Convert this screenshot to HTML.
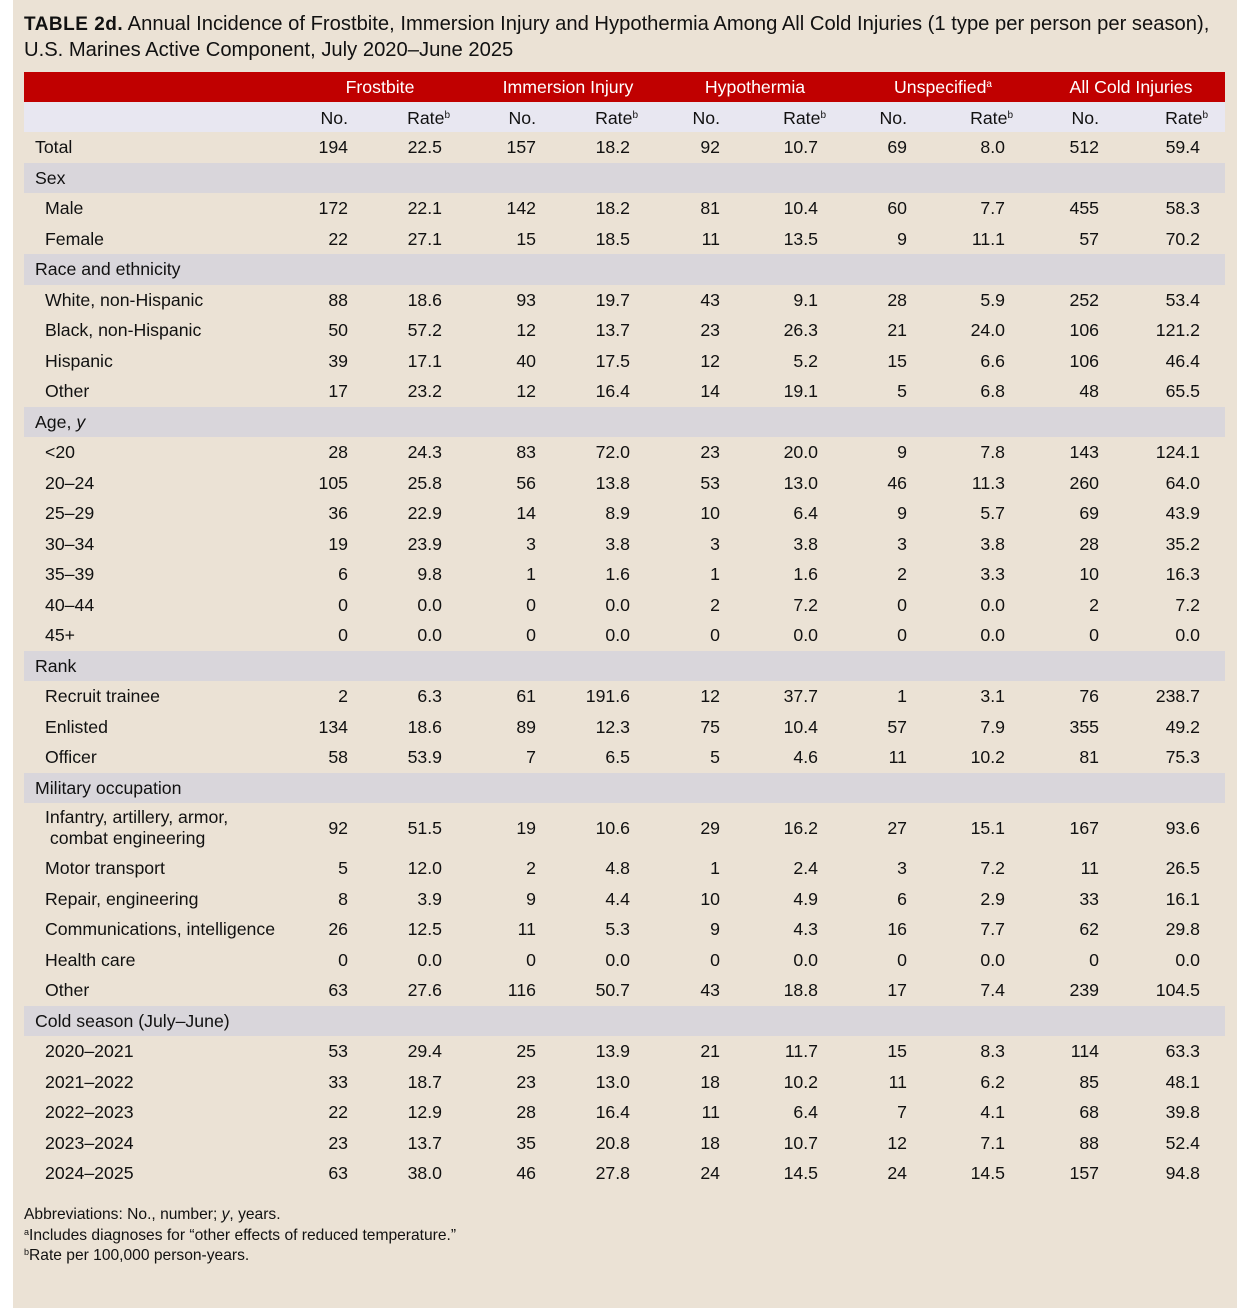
<!DOCTYPE html>
<html><head><meta charset="utf-8"><style>
html,body{margin:0;padding:0;background:#fff;}
#p{position:absolute;left:13px;top:0;width:1224px;height:1308px;background:#ebe2d5;}
body{font-family:"Liberation Sans",sans-serif;color:#111;width:1250px;height:1308px;position:relative;overflow:hidden;}
.t{position:absolute;left:24px;font-size:20.2px;line-height:26px;white-space:nowrap;}
.tb{font-weight:bold;letter-spacing:0.5px;font-size:19px;}
#red{position:absolute;left:24px;top:72px;width:1201px;height:30px;background:#c00000;}
#red span{position:absolute;top:0;line-height:30px;color:#fff;font-size:17.7px;transform:translateX(-50%);white-space:nowrap;}
sup{font-size:10px;vertical-align:6px;line-height:0;}
#tw{position:absolute;left:24px;top:102px;width:1201px;height:30px;background:#e8e7f1;}
table{position:absolute;left:24px;top:103px;border-collapse:collapse;table-layout:fixed;width:1201px;font-size:17.7px;}
td{padding:0 10px 0 0;text-align:right;height:30.5px;white-space:nowrap;line-height:20px;}
td:first-child{text-align:left;padding-left:21px;}
tr.sh td{background:#e8e7f1;height:29px;}
tr.sh td.r{padding-right:2px;}
tr.g td{background:#d9d6db;}
tr.g td:first-child,tr.tot td:first-child{padding-left:11px;}
td.last{padding-right:25px;}
tr.sh td.last{padding-right:17px;}
.f{position:absolute;left:24px;font-size:15.6px;line-height:20.5px;white-space:nowrap;}
.f sup{font-size:9px;vertical-align:5px;}
</style></head><body><div id="p"></div>
<div class="t" style="top:11px"><span class="tb">TABLE 2d.</span> Annual Incidence of Frostbite, Immersion Injury and Hypothermia Among All Cold Injuries (1 type per person per season),</div>
<div class="t" style="top:37px">U.S. Marines Active Component, July 2020–June 2025</div>
<div id="red"><span style="left:356px">Frostbite</span><span style="left:544px">Immersion Injury</span><span style="left:731px">Hypothermia</span><span style="left:919px">Unspecified<sup>a</sup></span><span style="left:1107px">All Cold Injuries</span></div>
<div id="tw"></div>
<table>
<colgroup><col style="width:276px"><col style="width:58px"><col style="width:94px"><col style="width:94px"><col style="width:94px"><col style="width:90px"><col style="width:98px"><col style="width:89px"><col style="width:98px"><col style="width:94px"><col style="width:116px"></colgroup>
<tr class="sh"><td></td><td>No.</td><td class="r">Rate<sup>b</sup></td><td>No.</td><td class="r">Rate<sup>b</sup></td><td>No.</td><td class="r">Rate<sup>b</sup></td><td>No.</td><td class="r">Rate<sup>b</sup></td><td>No.</td><td class="last">Rate<sup>b</sup></td></tr>
<tr class="tot"><td>Total</td><td>194</td><td>22.5</td><td>157</td><td>18.2</td><td>92</td><td>10.7</td><td>69</td><td>8.0</td><td>512</td><td class="last">59.4</td></tr>
<tr class="g"><td colspan="11">Sex</td></tr>
<tr><td>Male</td><td>172</td><td>22.1</td><td>142</td><td>18.2</td><td>81</td><td>10.4</td><td>60</td><td>7.7</td><td>455</td><td class="last">58.3</td></tr>
<tr><td>Female</td><td>22</td><td>27.1</td><td>15</td><td>18.5</td><td>11</td><td>13.5</td><td>9</td><td>11.1</td><td>57</td><td class="last">70.2</td></tr>
<tr class="g"><td colspan="11">Race and ethnicity</td></tr>
<tr><td>White, non-Hispanic</td><td>88</td><td>18.6</td><td>93</td><td>19.7</td><td>43</td><td>9.1</td><td>28</td><td>5.9</td><td>252</td><td class="last">53.4</td></tr>
<tr><td>Black, non-Hispanic</td><td>50</td><td>57.2</td><td>12</td><td>13.7</td><td>23</td><td>26.3</td><td>21</td><td>24.0</td><td>106</td><td class="last">121.2</td></tr>
<tr><td>Hispanic</td><td>39</td><td>17.1</td><td>40</td><td>17.5</td><td>12</td><td>5.2</td><td>15</td><td>6.6</td><td>106</td><td class="last">46.4</td></tr>
<tr><td>Other</td><td>17</td><td>23.2</td><td>12</td><td>16.4</td><td>14</td><td>19.1</td><td>5</td><td>6.8</td><td>48</td><td class="last">65.5</td></tr>
<tr class="g"><td colspan="11">Age, <i>y</i></td></tr>
<tr><td>&lt;20</td><td>28</td><td>24.3</td><td>83</td><td>72.0</td><td>23</td><td>20.0</td><td>9</td><td>7.8</td><td>143</td><td class="last">124.1</td></tr>
<tr><td>20–24</td><td>105</td><td>25.8</td><td>56</td><td>13.8</td><td>53</td><td>13.0</td><td>46</td><td>11.3</td><td>260</td><td class="last">64.0</td></tr>
<tr><td>25–29</td><td>36</td><td>22.9</td><td>14</td><td>8.9</td><td>10</td><td>6.4</td><td>9</td><td>5.7</td><td>69</td><td class="last">43.9</td></tr>
<tr><td>30–34</td><td>19</td><td>23.9</td><td>3</td><td>3.8</td><td>3</td><td>3.8</td><td>3</td><td>3.8</td><td>28</td><td class="last">35.2</td></tr>
<tr><td>35–39</td><td>6</td><td>9.8</td><td>1</td><td>1.6</td><td>1</td><td>1.6</td><td>2</td><td>3.3</td><td>10</td><td class="last">16.3</td></tr>
<tr><td>40–44</td><td>0</td><td>0.0</td><td>0</td><td>0.0</td><td>2</td><td>7.2</td><td>0</td><td>0.0</td><td>2</td><td class="last">7.2</td></tr>
<tr><td>45+</td><td>0</td><td>0.0</td><td>0</td><td>0.0</td><td>0</td><td>0.0</td><td>0</td><td>0.0</td><td>0</td><td class="last">0.0</td></tr>
<tr class="g"><td colspan="11">Rank</td></tr>
<tr><td>Recruit trainee</td><td>2</td><td>6.3</td><td>61</td><td>191.6</td><td>12</td><td>37.7</td><td>1</td><td>3.1</td><td>76</td><td class="last">238.7</td></tr>
<tr><td>Enlisted</td><td>134</td><td>18.6</td><td>89</td><td>12.3</td><td>75</td><td>10.4</td><td>57</td><td>7.9</td><td>355</td><td class="last">49.2</td></tr>
<tr><td>Officer</td><td>58</td><td>53.9</td><td>7</td><td>6.5</td><td>5</td><td>4.6</td><td>11</td><td>10.2</td><td>81</td><td class="last">75.3</td></tr>
<tr class="g"><td colspan="11">Military occupation</td></tr>
<tr><td style="height:50px;line-height:21px">Infantry, artillery, armor,<br>&nbsp;combat engineering</td><td>92</td><td>51.5</td><td>19</td><td>10.6</td><td>29</td><td>16.2</td><td>27</td><td>15.1</td><td>167</td><td class="last">93.6</td></tr>
<tr><td>Motor transport</td><td>5</td><td>12.0</td><td>2</td><td>4.8</td><td>1</td><td>2.4</td><td>3</td><td>7.2</td><td>11</td><td class="last">26.5</td></tr>
<tr><td>Repair, engineering</td><td>8</td><td>3.9</td><td>9</td><td>4.4</td><td>10</td><td>4.9</td><td>6</td><td>2.9</td><td>33</td><td class="last">16.1</td></tr>
<tr><td>Communications, intelligence</td><td>26</td><td>12.5</td><td>11</td><td>5.3</td><td>9</td><td>4.3</td><td>16</td><td>7.7</td><td>62</td><td class="last">29.8</td></tr>
<tr><td>Health care</td><td>0</td><td>0.0</td><td>0</td><td>0.0</td><td>0</td><td>0.0</td><td>0</td><td>0.0</td><td>0</td><td class="last">0.0</td></tr>
<tr><td>Other</td><td>63</td><td>27.6</td><td>116</td><td>50.7</td><td>43</td><td>18.8</td><td>17</td><td>7.4</td><td>239</td><td class="last">104.5</td></tr>
<tr class="g"><td colspan="11">Cold season (July–June)</td></tr>
<tr><td>2020–2021</td><td>53</td><td>29.4</td><td>25</td><td>13.9</td><td>21</td><td>11.7</td><td>15</td><td>8.3</td><td>114</td><td class="last">63.3</td></tr>
<tr><td>2021–2022</td><td>33</td><td>18.7</td><td>23</td><td>13.0</td><td>18</td><td>10.2</td><td>11</td><td>6.2</td><td>85</td><td class="last">48.1</td></tr>
<tr><td>2022–2023</td><td>22</td><td>12.9</td><td>28</td><td>16.4</td><td>11</td><td>6.4</td><td>7</td><td>4.1</td><td>68</td><td class="last">39.8</td></tr>
<tr><td>2023–2024</td><td>23</td><td>13.7</td><td>35</td><td>20.8</td><td>18</td><td>10.7</td><td>12</td><td>7.1</td><td>88</td><td class="last">52.4</td></tr>
<tr><td>2024–2025</td><td>63</td><td>38.0</td><td>46</td><td>27.8</td><td>24</td><td>14.5</td><td>24</td><td>14.5</td><td>157</td><td class="last">94.8</td></tr>
</table>
<div class="f" style="top:1205px">Abbreviations: No., number; <i>y</i>, years.<br><sup>a</sup>Includes diagnoses for “other effects of reduced temperature.”<br><sup>b</sup>Rate per 100,000 person-years.</div>
</body></html>
